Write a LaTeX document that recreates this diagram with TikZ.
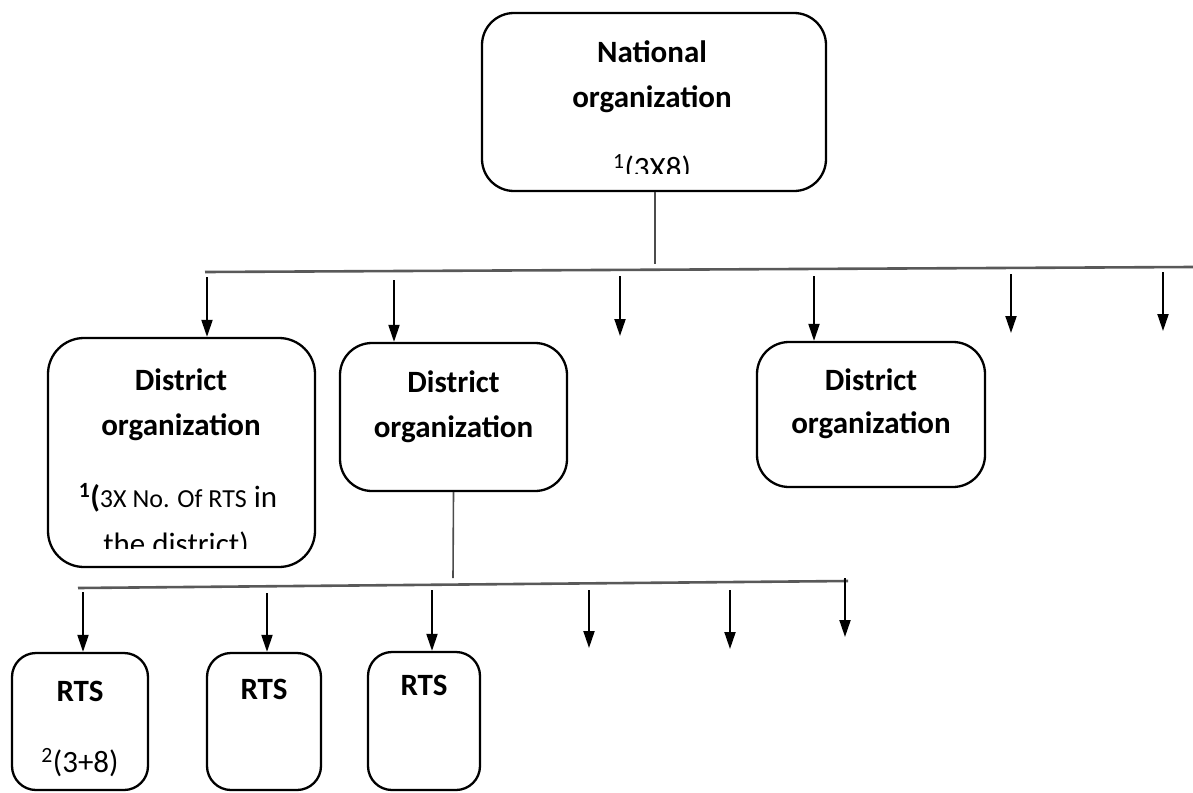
\documentclass[tikz,border=0pt]{standalone}
\usepackage{fontspec}
\setmainfont{Carlito}
\usetikzlibrary{arrows.meta}
\begin{document}
\begin{tikzpicture}[x=1pt,y=-1pt,
  orgbox/.style={draw, line width=2.3pt, rounded corners=#1, inner sep=0pt},
  orgbox/.default=32pt,
  hd/.style={anchor=base, inner sep=0pt, font=\fontsize{31}{37}\selectfont\bfseries},
  tx/.style={anchor=base, inner sep=0pt, font=\fontsize{31}{37}\selectfont},
  arr/.style={line width=2pt, -{Triangle[length=17pt,width=11pt]}},
  conn/.style={line width=1.6pt, black!70},
  bus/.style={line width=2.6pt, black!65}]
\useasboundingbox (0,0) rectangle (1193,792);

% boxes
\node[orgbox, minimum width=344pt, minimum height=178pt] (nat) at (654,102) {};
\node[orgbox=36pt, minimum width=267pt, minimum height=229pt] (d1) at (181.5,452.5) {};
\node[orgbox, minimum width=227pt, minimum height=148pt] (d2) at (453.5,417) {};
\node[orgbox, minimum width=228pt, minimum height=145pt] (d3) at (871,414.5) {};
\node[orgbox=24pt, minimum width=136pt, minimum height=137pt] (r1) at (80,721.5) {};
\node[orgbox=24pt, minimum width=114pt, minimum height=137pt] (r2) at (264,721.5) {};
\node[orgbox=24pt, minimum width=112pt, minimum height=138pt] (r3) at (424,721) {};

% texts
\node[hd] (natA) at (652,63) {National};
\node[hd] (natB) at (652,107) {organization};
\begin{scope}
  \clip (482,140) rectangle (826,173);
  \node[tx] (natC) at (652,178) {\textsuperscript{1}(3X8)};
\end{scope}

\node[hd] (d1A) at (181,390) {District};
\node[hd] (d1B) at (181,435) {organization};
\node[tx] (d1C) at (178,507) {{\bfseries\textsuperscript{1}(}{\fontsize{26}{30}\selectfont 3X No. Of RTS} in};
\begin{scope}
  \clip (48,515) rectangle (315,548);
  \node[tx] (d1D) at (176,554) {the district)};
\end{scope}

\node[hd] (d2A) at (453.5,392) {District};
\node[hd] (d2B) at (453.5,437) {organization};
\node[hd] (d3A) at (871,390) {District};
\node[hd] (d3B) at (871,433) {organization};

\node[hd] (r1A) at (80,701) {RTS};
\node[tx] (r1B) at (80,772) {\textsuperscript{2}(3+8)};
\node[hd] (r2A) at (264,699) {RTS};
\node[hd] (r3A) at (424,695) {RTS};

% first level connectors
\coordinate (bus1L) at (205,272);
\coordinate (bus1R) at (1193,267);
\draw[bus] (bus1L) -- (bus1R);
\coordinate (nj) at (655,264);
\draw[conn] (nat.south -| nj) -- (nj);

\coordinate (a1) at (207,277);
\coordinate (a2) at (394,280);
\coordinate (a3) at (620,276);
\coordinate (a3e) at (620,336);
\coordinate (a4) at (814,276);
\coordinate (a5) at (1011,274);
\coordinate (a5e) at (1011,333);
\coordinate (a6) at (1163,272);
\coordinate (a6e) at (1163,331);
\draw[arr] (a1) -- (a1 |- d1.north);
\draw[arr] (a2) -- (a2 |- d2.north);
\draw[arr] (a3) -- (a3e);
\draw[arr] (a4) -- (a4 |- d3.north);
\draw[arr] (a5) -- (a5e);
\draw[arr] (a6) -- (a6e);

% second level connectors
\coordinate (bus2L) at (78,588);
\coordinate (bus2R) at (848,581);
\draw[bus] (bus2L) -- (bus2R);
\coordinate (dj) at (453,578);
\draw[conn] (d2.south) -- (dj);

\coordinate (b1) at (83,592);
\coordinate (b2) at (267,593);
\coordinate (b3) at (432,590);
\coordinate (b4) at (589,590);
\coordinate (b4e) at (589,648);
\coordinate (b5) at (730,590);
\coordinate (b5e) at (730,649);
\coordinate (b6) at (845,578);
\coordinate (b6e) at (845,637);
\draw[arr] (b1) -- (b1 |- r1.north);
\draw[arr] (b2) -- (b2 |- r2.north);
\draw[arr] (b3) -- (b3 |- r3.north);
\draw[arr] (b4) -- (b4e);
\draw[arr] (b5) -- (b5e);
\draw[arr] (b6) -- (b6e);
\end{tikzpicture}
\end{document}
